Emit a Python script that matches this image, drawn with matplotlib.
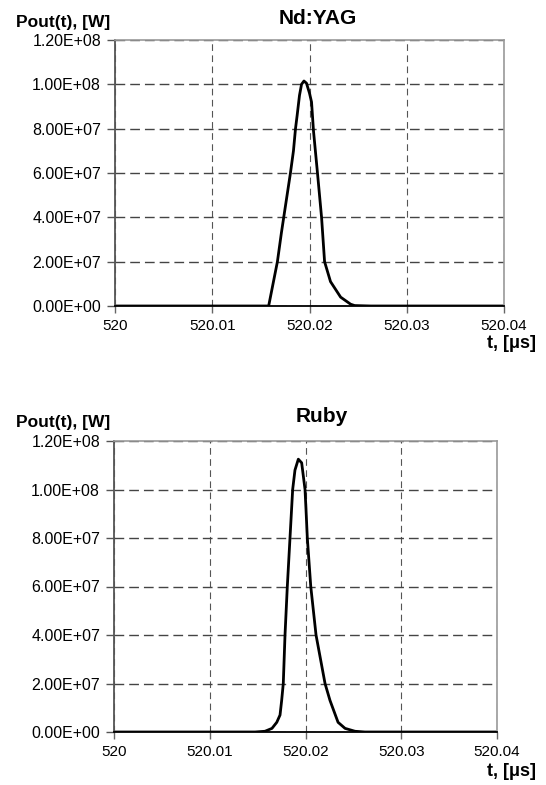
import matplotlib
matplotlib.use("Agg")
import matplotlib.pyplot as plt
from matplotlib.ticker import FuncFormatter

plt.rcParams['font.family'] = ['Liberation Sans', 'DejaVu Sans']

# ---- data ----
x_ticks = [520.0, 520.01, 520.02, 520.03, 520.04]
x_tick_labels = ["520", "520.01", "520.02", "520.03", "520.04"]
y_ticks = [0, 2e7, 4e7, 6e7, 8e7, 1e8, 1.2e8]

t_ndyag = [520.0, 520.0139, 520.0158, 520.0167, 520.01711, 520.01735, 520.01804,
           520.01835, 520.01856, 520.01873, 520.01897, 520.01918, 520.01943,
           520.01969, 520.0200, 520.02021, 520.02041, 520.02082, 520.02124,
           520.02155, 520.02216, 520.0232, 520.02423, 520.02464, 520.02546,
           520.0263, 520.04]
p_ndyag = [0, 0, 0, 2.0e7, 3.3e7, 4.0e7, 6.0e7,
           7.0e7, 8.0e7, 8.6e7, 9.5e7, 1.0e8, 1.015e8,
           1.005e8, 9.6e7, 9.2e7, 7.9e7, 6.0e7, 4.0e7,
           2.0e7, 1.1e7, 4.0e6, 8.0e5, 2.0e5, 1.0e5,
           0, 0]

t_ruby = [520.0, 520.01473, 520.01577, 520.0165, 520.0170, 520.01734, 520.01751,
          520.01768, 520.01786, 520.0181, 520.01838, 520.01866, 520.0189,
          520.01925, 520.0196, 520.01995, 520.02005, 520.02019, 520.02055,
          520.0211, 520.02204, 520.02256, 520.0234, 520.02413, 520.02517,
          520.0262, 520.04]
p_ruby = [0, 0, 3e5, 1.5e6, 4.0e6, 7.0e6, 1.3e7,
          2.0e7, 4.0e7, 6.0e7, 8.0e7, 1.0e8, 1.08e8,
          1.125e8, 1.11e8, 1.0e8, 9.2e7, 8.0e7, 6.0e7,
          4.0e7, 2.0e7, 1.3e7, 4.0e6, 1.5e6, 3e5,
          0, 0]

W, H = 546, 785
fig = plt.figure(figsize=(W / 100, H / 100), dpi=100)


def px_axes(left, right, top, bottom):
    return fig.add_axes([left / W, 1 - bottom / H, (right - left) / W, (bottom - top) / H])


def style(ax, title, title_x, title_y, ylab_y, tlab_y):
    ax.set_xlim(520.0, 520.04)
    ax.set_ylim(0, 1.2e8)
    ax.set_xticks(x_ticks)
    ax.set_xticklabels(x_tick_labels)
    ax.set_yticks(y_ticks)
    ax.yaxis.set_major_formatter(FuncFormatter(lambda v, p: f"{v:.2E}"))
    ax.tick_params(axis='x', direction='out', length=5, width=1, color='#666',
                   labelsize=11, pad=4)
    ax.tick_params(axis='y', direction='out', length=6, width=1, color='#555',
                   labelsize=11.5, pad=4)
    ax.grid(True, axis='y', linestyle=(0, (7, 3.6)), color='#444', linewidth=1.0)
    ax.grid(True, axis='x', linestyle=(0, (6, 4)), color='#555', linewidth=0.8)
    ax.spines['left'].set_color('#555')
    ax.spines['left'].set_linewidth(1.3)
    ax.spines['bottom'].set_color('black')
    ax.spines['bottom'].set_linewidth(1.3)
    ax.spines['top'].set_color('#999')
    ax.spines['top'].set_linewidth(1.2)
    ax.spines['right'].set_color('#999')
    ax.spines['right'].set_linewidth(1.2)
    fig.text(title_x / W, 1 - title_y / H, title, ha='center', va='center',
             fontsize=15, fontweight='bold')
    fig.text(16 / W, 1 - ylab_y / H, "Pout(t), [W]", ha='left', va='center',
             fontsize=12.5, fontweight='bold')
    fig.text(536 / W, 1 - tlab_y / H, "t, [\u03bcs]", ha='right', va='center',
             fontsize=13, fontweight='bold')


ax1 = px_axes(115, 504, 40, 306)
ax1.plot(t_ndyag, p_ndyag, color='black', linewidth=2.0, solid_joinstyle='round')
style(ax1, "Nd:YAG", 318, 18, 22, 344)

ax2 = px_axes(114, 497, 441, 732)
ax2.plot(t_ruby, p_ruby, color='black', linewidth=2.0, solid_joinstyle='round')
style(ax2, "Ruby", 322, 417, 422, 772)

fig.savefig("out.png", dpi=100)
